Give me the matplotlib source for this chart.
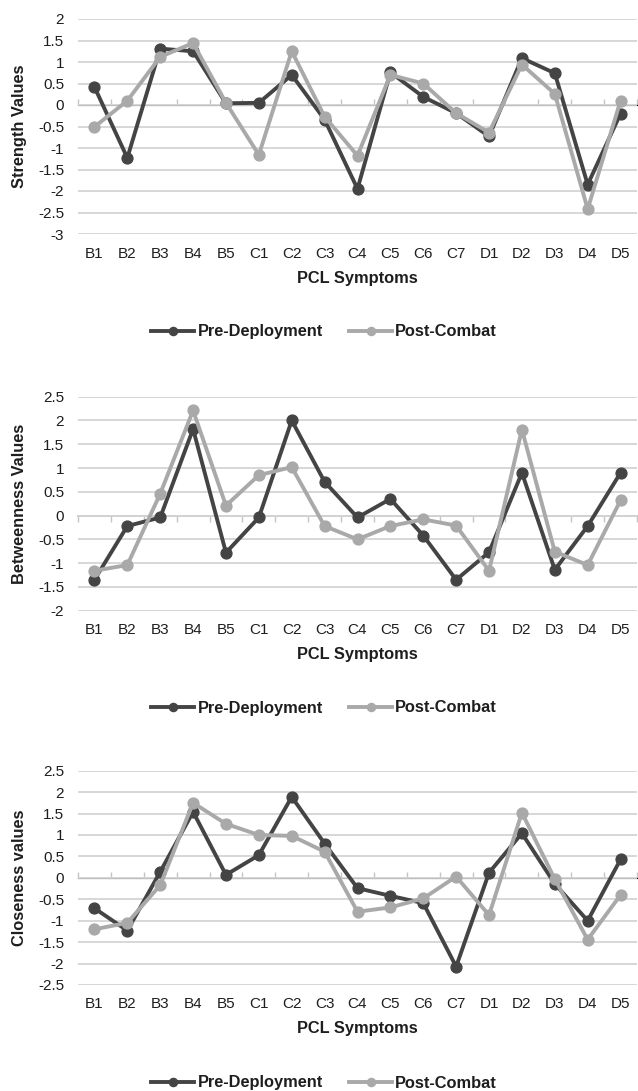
import matplotlib
matplotlib.use("Agg")
import matplotlib.pyplot as plt
import numpy as np

plt.rcParams['font.family'] = ['Liberation Sans', 'DejaVu Sans']
plt.rcParams['axes.unicode_minus'] = False

symptoms = ["B1", "B2", "B3", "B4", "B5", "C1", "C2", "C3", "C4", "C5", "C6",
            "C7", "D1", "D2", "D3", "D4", "D5"]

strength_pre = [0.42, -1.23, 1.31, 1.25, 0.04, 0.05, 0.70, -0.34, -1.95, 0.76,
                0.19, -0.19, -0.73, 1.09, 0.74, -1.85, -0.20]
strength_post = [-0.51, 0.10, 1.12, 1.44, 0.05, -1.16, 1.25, -0.27, -1.18, 0.70,
                 0.50, -0.19, -0.64, 0.94, 0.26, -2.42, 0.10]

betweenness_pre = [-1.35, -0.22, -0.04, 1.82, -0.78, -0.04, 2.00, 0.71, -0.04, 0.35,
                   -0.42, -1.35, -0.77, 0.90, -1.14, -0.22, 0.90]
betweenness_post = [-1.16, -1.04, 0.46, 2.21, 0.21, 0.85, 1.02, -0.22, -0.50, -0.22,
                    -0.08, -0.21, -1.16, 1.81, -0.76, -1.04, 0.32]

closeness_pre = [-0.71, -1.23, 0.14, 1.54, 0.07, 0.53, 1.89, 0.80, -0.24, -0.42,
                 -0.59, -2.07, 0.12, 1.04, -0.14, -1.00, 0.43]
closeness_post = [-1.20, -1.05, -0.17, 1.75, 1.26, 1.00, 0.98, 0.61, -0.79, -0.69,
                  -0.48, 0.03, -0.87, 1.52, -0.03, -1.44, -0.40]

series_names = ["Pre-Deployment", "Post-Combat"]
y_labels = ["Strength Values", "Betweenness Values", "Closeness values"]
x_label = "PCL Symptoms"
y_ranges = [(-3, 2), (-2, 2.5), (-2.5, 2.5)]

W, H = 638, 1091
fig = plt.figure(figsize=(W / 100, H / 100), dpi=100)

dark = '#444444'
light = '#a9a9a9'
grid_c = '#d4d4d4'
text_c = '#1e1e1e'

# pixel layout: (top, bottom) of plot areas; legend centre y
panels = [(19, 234, 332), (396.7, 610.7, 708), (770.7, 985, 1083)]
left_px, right_px = 78, 637

data = [(strength_pre, strength_post), (betweenness_pre, betweenness_post),
        (closeness_pre, closeness_post)]

x = np.arange(len(symptoms))
for i, ((top, bot, leg_y), (pre, post), ylab, (ymin, ymax)) in enumerate(
        zip(panels, data, y_labels, y_ranges)):
    ax = fig.add_axes([left_px / W, 1 - bot / H, (right_px - left_px) / W, (bot - top) / H])
    ax.set_xlim(-0.5, len(symptoms) - 0.5)
    ax.set_ylim(ymin, ymax)
    ticks = np.arange(ymin, ymax + 0.001, 0.5)
    ax.set_yticks(ticks)
    ax.set_yticklabels([('%g' % t) for t in ticks])
    ax.set_xticks(x)
    ax.set_xticklabels(symptoms)
    for s in ax.spines.values():
        s.set_visible(False)
    ax.grid(axis='y', color=grid_c, linewidth=1.3, zorder=0)
    ax.set_axisbelow(True)
    ax.tick_params(axis='both', length=0, labelsize=11, colors=text_c)
    ax.tick_params(axis='y', pad=10)
    ax.tick_params(axis='x', pad=9)

    # zero axis with category-boundary tick marks
    frac = (0 - ymin) / (ymax - ymin)
    sec = ax.secondary_xaxis(frac)
    sec.set_xticks(np.arange(-0.5, len(symptoms) + 0.5, 1.0))
    sec.set_xticklabels([])
    sec.spines['bottom'].set_color('#c4c4c4')
    sec.spines['bottom'].set_linewidth(1.3)
    sec.tick_params(axis='x', length=4, width=1, color='#c4c4c4', direction='out')

    l1, = ax.plot(x, pre, color=dark, lw=2.8, marker='o', ms=7.8, zorder=3,
                  label=series_names[0])
    l2, = ax.plot(x, post, color=light, lw=2.8, marker='o', ms=7.8, zorder=4,
                  label=series_names[1])

    ax.set_xlabel(x_label, fontsize=11.8, fontweight='bold', color=text_c)
    ax.xaxis.set_label_coords(0.5, -44 / (bot - top))
    ax.xaxis.label.set_va('center')
    ax.set_ylabel(ylab, fontsize=11.8, fontweight='bold', color=text_c)
    ax.yaxis.set_label_coords((20 - left_px) / (right_px - left_px), 0.5)
    ax.yaxis.label.set_va('center')

    fig.legend(handles=[l1, l2], loc='center', bbox_to_anchor=(324 / W, 1 - leg_y / H),
               ncol=2, frameon=False, handlelength=2.65, handletextpad=0.18,
               columnspacing=1.6, numpoints=1, markerscale=0.75,
               prop={'size': 11.8, 'weight': 'bold'}, labelcolor=text_c)

fig.savefig('out.png', dpi=100)
